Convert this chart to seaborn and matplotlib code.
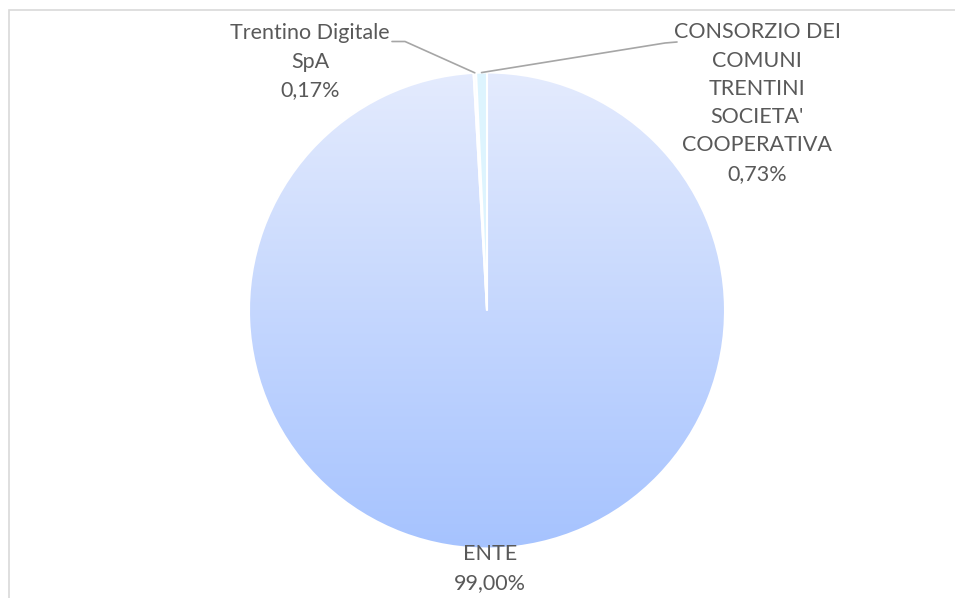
import numpy as np
import seaborn as sns
import matplotlib.pyplot as plt
from matplotlib.patches import Rectangle

sns.set_theme(style="white")
plt.rcParams["font.family"] = ["Lato", "DejaVu Sans"]

labels = ["ENTE", "Trentino Digitale\nSpA", "CONSORZIO DEI\nCOMUNI\nTRENTINI\nSOCIETA'\nCOOPERATIVA"]
shares = [99.00, 0.17, 0.73]
pct_text = ["99,00%", "0,17%", "0,73%"]
slice_colors = ["#C9D9FC", "#F4F9FF", "#DDF4FE"]

W, H = 955, 598
CX, CY, R = 487, 310.5, 238
TEXT = "#595959"
LINE = "#A6A6A6"


def to_data(px, py):
    return (px - CX) / R, (CY - py) / R


fig = plt.figure(figsize=(W / 100, H / 100), dpi=100)
fig.patch.set_facecolor("white")
fig.patches.append(Rectangle((8.5 / W, -0.1), 1.2, 1 - 10.5 / H + 0.1,
                             transform=fig.transFigure, fill=False,
                             edgecolor="#D9D9D9", lw=1.2))

ax = fig.add_axes([(CX - R) / W, (H - CY - R) / H, 2 * R / W, 2 * R / H])

wedges, _ = ax.pie(shares, startangle=90, counterclock=False, colors=slice_colors,
                   radius=1, wedgeprops=dict(edgecolor="white", linewidth=1.5))
ax.set_xlim(-1, 1)
ax.set_ylim(-1, 1)
ax.axis("off")

# vertical gradient on the big slice
cmap = sns.blend_palette(["#E4EBFD", "#A6C3FF"], as_cmap=True)
grad = np.linspace(0, 1, 256).reshape(-1, 1)
img = ax.imshow(grad, cmap=cmap, extent=(-1, 1, -1, 1), origin="upper",
                aspect="auto", zorder=0.5)
img.set_clip_path(wedges[0])
wedges[0].set_facecolor("none")
wedges[0].set_zorder(1)

# labels
label_pos = {0: (490, 568.5), 1: (310, 61.5), 2: (757, 103)}
for i, (lab, pct) in enumerate(zip(labels, pct_text)):
    x, y = to_data(*label_pos[i])
    ax.text(x, y, f"{lab}\n{pct}", ha="center", va="center", fontsize=15.5,
            color=TEXT, linespacing=1.52, clip_on=False)

# leader lines for the two thin slices
leader_pts = {1: [(392, 41.5), (405, 41.5)], 2: [(677, 42), (665, 43)]}
for i, pts in leader_pts.items():
    w = wedges[i]
    ang = np.deg2rad((w.theta1 + w.theta2) / 2)
    xs = [to_data(*p)[0] for p in pts] + [np.cos(ang)]
    ys = [to_data(*p)[1] for p in pts] + [np.sin(ang)]
    ax.plot(xs, ys, color=LINE, lw=1.2, clip_on=False, zorder=3)

fig.savefig("out.png", dpi=100, facecolor="white")
